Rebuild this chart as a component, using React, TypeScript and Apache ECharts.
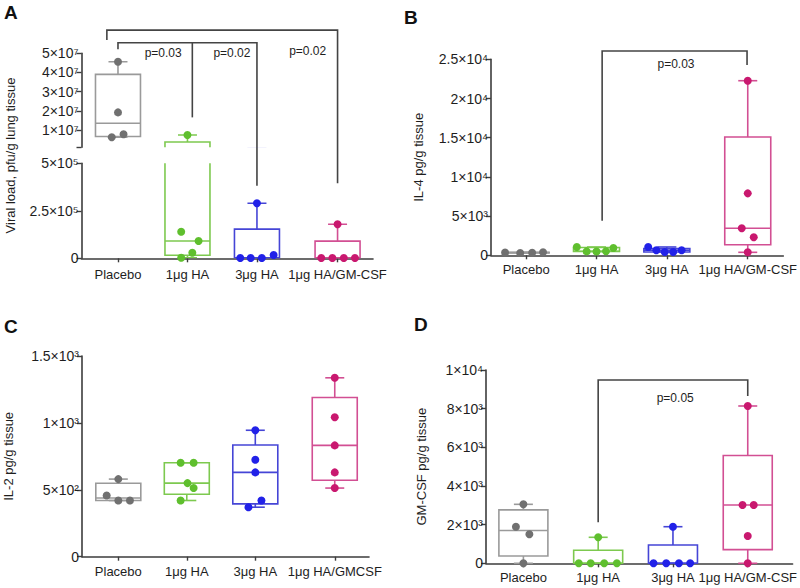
import React, { useEffect, useRef } from 'react';
import * as echarts from 'echarts';

const categories = ['Placebo', '1μg HA', '3μg HA', '1μg HA/GM-CSF'];
const categoriesC = ['Placebo', '1μg HA', '3μg HA', '1μg HA/GMCSF'];

// Panel A – viral load, pfu/g lung tissue
const viralPlacebo = [45600000, 19200000, 6200000, 7800000];
const viral1HA = [7400000, 140000, 91000, 29000, 3000];
const viral3HA = [290000, 2000, 2000, 2000, 17000];
const viralGM = [179000, 2000, 2000, 2000, 2000];
// Panel B – IL-4 pg/g tissue
const il4Placebo = [350, 300, 320, 380];
const il41HA = [1060, 500, 480, 520, 930];
const il43HA = [1060, 640, 430, 430, 640];
const il4GM = [22270, 7900, 3450, 2300, 380];
// Panel C – IL-2 pg/g tissue
const il2Placebo = [580, 457, 420, 420];
const il21HA = [702, 702, 550, 513, 420];
const il23HA = [945, 725, 630, 420, 370];
const il2GM = [1337, 1042, 832, 630, 513];
// Panel D – GM-CSF pg/g tissue
const gmPlacebo = [3051, 1893, 1500, 0];
const gm1HA = [1345, 0, 0, 0, 0];
const gm3HA = [1893, 0, 0, 0, 0];
const gmGM = [8138, 3017, 3017, 1412, 0];

// horizontal scatter of the dots inside each group (category units)
const jitA = [[0, 0, -0.09, 0.08], [0, -0.09, 0.16, 0.07, -0.09], [0, -0.24, -0.09, 0.07, 0.24], [0, -0.235, -0.075, 0.09, 0.25]];
const jitB = [[-0.3, -0.085, 0.085, 0.24], [-0.28, -0.14, 0, 0.135, 0.24], [-0.265, -0.15, -0.03, 0.09, 0.21], [0, 0, -0.085, 0.085, 0]];
const jitC = [[0, -0.17, 0, 0.17], [-0.09, 0.1, 0.01, 0.1, -0.09], [0, 0, 0, 0.09, -0.1], [0, 0, 0, 0, 0]];
const jitD = [[0, -0.1, 0.08, 0], [0, -0.26, -0.1, 0.08, 0.25], [0, -0.26, -0.09, 0.08, 0.23], [0, -0.07, 0.08, 0, 0]];

// significance brackets
const sigA = [
  { from: -0.16, to: 3.16, top: 62100000, fromEnd: 56900000, toEnd: 395000, mid: null as null | number, midEnd: 0 },
  { from: 0, to: 2, top: 55500000, fromEnd: 52100000, toEnd: 382000, mid: 1.07, midEnd: 16600000 },
];
const pLabelsA = [
  { text: 'p=0.03', x: 0.65, y: 50200000 },
  { text: 'p=0.02', x: 1.64, y: 50200000 },
  { text: 'p=0.02', x: 2.73, y: 51200000 },
];
const sigB = { from: 1.08, to: 3.14, top: 26058, fromEnd: 4413, toEnd: 24273, text: 'p=0.03', tx: 2.13, ty: 24337 };
const sigD = { from: 1.0, to: 3.0, top: 9483, fromEnd: 2121, toEnd: 8655, text: 'p=0.05', tx: 2.03, ty: 8552 };

const pointColors = ['#707070', '#5fbf2e', '#2121e8', '#c9186f'];
const boxColors = ['#9a9a9a', '#7dc94f', '#4545d6', '#d24f93'];
const FONT = '"Liberation Sans", Arial, Helvetica, sans-serif';
const AXIS = '#3d3d3d';
const TXT = '#1e1e1e';

const SUP: Record<string, string> = { '0': '⁰', '1': '¹', '2': '²', '3': '³', '4': '⁴', '5': '⁵', '6': '⁶', '7': '⁷', '8': '⁸', '9': '⁹' };
function sci(v: number): string {
  if (v === 0) return '0';
  const e = Math.floor(Math.log10(v) + 1e-9);
  const m = parseFloat((v / Math.pow(10, e)).toPrecision(3));
  return `${m}×10${String(e).split('').map((c) => SUP[c]).join('')}`;
}
function quant(s: number[], p: number): number {
  const n = s.length;
  const h = (n + 1) * p;
  if (h <= 1) return s[0];
  if (h >= n) return s[n - 1];
  const lo = Math.floor(h);
  return s[lo - 1] + (h - lo) * (s[lo] - s[lo - 1]);
}
function boxStats(v: number[]): number[] {
  const s = [...v].sort((a, b) => a - b);
  return [s[0], quant(s, 0.25), quant(s, 0.5), quant(s, 0.75), s[s.length - 1]];
}

interface Panel {
  grid: { left: number; right: number; top: number; bottom: number };
  xMin: number; xMax: number; pos: number[]; cats: string[]; showX: boolean;
  y: any; groups: number[][]; jit: number[][]; keep: (v: number) => boolean; boxHalf: number; clip: boolean;
  labelMargin: number;
}

const always = () => true;
const panels: Panel[] = [
  {
    grid: { left: 81.5, right: 427, top: 53.3, bottom: 440.7 }, xMin: -0.525, xMax: 3.67, pos: [0, 1, 2, 3.16], cats: categories, showX: false,
    y: { min: 1000000, max: 50000000, labels: [10000000, 20000000, 30000000, 40000000, 50000000], ticks: [1000000, 10000000, 20000000, 30000000, 40000000, 50000000] },
    groups: [viralPlacebo, viral1HA, viral3HA, viralGM], jit: jitA, keep: (v) => v >= 750000, boxHalf: 22.5, clip: true, labelMargin: 10,
  },
  {
    grid: { left: 81.5, right: 427, top: 163.3, bottom: 329.7 }, xMin: -0.525, xMax: 3.67, pos: [0, 1, 2, 3.16], cats: categories, showX: true,
    y: { min: 0, max: 500000, interval: 250000 },
    groups: [viralPlacebo, viral1HA, viral3HA, viralGM], jit: jitA, keep: (v) => v < 750000, boxHalf: 22.5, clip: true, labelMargin: 10,
  },
  {
    grid: { left: 491, right: 16, top: 59.3, bottom: 332.7 }, xMin: -0.5, xMax: 3.656, pos: [0, 1, 2, 3.15], cats: categories, showX: true,
    y: { min: 0, max: 25000, interval: 5000, name: 'IL-4 pg/g tissue', gap: 66 },
    groups: [il4Placebo, il41HA, il43HA, il4GM], jit: jitB, keep: always, boxHalf: 23, clip: false, labelMargin: 8,
  },
  {
    grid: { left: 82, right: 431, top: 356, bottom: 31.3 }, xMin: -0.53, xMax: 3.66, pos: [0, 1, 2, 3.16], cats: categoriesC, showX: true,
    y: { min: 0, max: 1500, interval: 500, name: 'IL-2 pg/g tissue', gap: 67 },
    groups: [il2Placebo, il21HA, il23HA, il2GM], jit: jitC, keep: always, boxHalf: 22.5, clip: false, labelMargin: 8,
  },
  {
    grid: { left: 486, right: 3, top: 370, bottom: 24.7 }, xMin: -0.5, xMax: 3.6, pos: [0, 1, 2, 3], cats: categories, showX: true,
    y: { min: 0, max: 10000, interval: 2000, name: 'GM-CSF pg/g tissue', gap: 58 },
    groups: [gmPlacebo, gm1HA, gm3HA, gmGM], jit: jitD, keep: always, boxHalf: 24.5, clip: false, labelMargin: 8,
  },
];

function buildOption(): any {
  const grid: any[] = [];
  const xAxis: any[] = [];
  const yAxis: any[] = [];
  const series: any[] = [];
  panels.forEach((p, k) => {
    grid.push({ ...p.grid, containLabel: false });
    xAxis.push({
      type: 'value', gridIndex: k, min: p.xMin, max: p.xMax, show: p.showX,
      axisLine: { show: true, onZero: false, lineStyle: { color: AXIS, width: 1.6 } },
      axisTick: { show: true, customValues: p.pos, length: 4, lineStyle: { color: AXIS, width: 1.4 } },
      axisLabel: {
        customValues: p.pos, margin: p.labelMargin, color: TXT, fontSize: 13, fontFamily: FONT,
        formatter: (v: number) => { const i = p.pos.indexOf(v); return i >= 0 ? p.cats[i] : ''; },
      },
      splitLine: { show: false },
    });
    const ya: any = {
      type: 'value', gridIndex: k, min: p.y.min, max: p.y.max,
      axisLine: { show: true, onZero: false, lineStyle: { color: AXIS, width: 1.6 } },
      axisTick: { show: true, length: 5, lineStyle: { color: AXIS, width: 1.4 } },
      axisLabel: { margin: 3, color: TXT, fontSize: 14, fontFamily: FONT, formatter: (v: number) => sci(v) },
      splitLine: { show: false },
    };
    if (p.y.interval) ya.interval = p.y.interval;
    if (p.y.labels) { ya.axisLabel.customValues = p.y.labels; ya.axisTick.customValues = p.y.ticks; }
    if (p.y.name) {
      ya.name = p.y.name; ya.nameLocation = 'middle'; ya.nameGap = p.y.gap;
      ya.nameTextStyle = { color: TXT, fontSize: 13, fontFamily: FONT };
    }
    yAxis.push(ya);

    const boxData = p.groups.map((g, gi) => [p.pos[gi], ...boxStats(g), gi]);
    series.push({
      type: 'custom', xAxisIndex: k, yAxisIndex: k, clip: p.clip, silent: true, z: 2,
      encode: { x: 0, y: 3 },
      data: boxData,
      renderItem: (params: any, api: any) => {
        const x = api.value(0);
        const c = boxColors[api.value(6)];
        const cx = api.coord([x, api.value(3)])[0];
        const yMin = api.coord([x, api.value(1)])[1];
        const yQ1 = api.coord([x, api.value(2)])[1];
        const yMed = api.coord([x, api.value(3)])[1];
        const yQ3 = api.coord([x, api.value(4)])[1];
        const yMax = api.coord([x, api.value(5)])[1];
        const hw = p.boxHalf;
        const cap = 9.5;
        const st = { stroke: c, lineWidth: 1.6, fill: 'none' };
        const ln = (x1: number, y1: number, x2: number, y2: number) => ({ type: 'line', shape: { x1, y1, x2, y2 }, style: { stroke: c, lineWidth: 1.6 } });
        return {
          type: 'group',
          children: [
            { type: 'rect', shape: { x: cx - hw, y: yQ3, width: 2 * hw, height: yQ1 - yQ3 }, style: st },
            ln(cx - hw, yMed, cx + hw, yMed),
            ln(cx, yQ3, cx, yMax),
            ln(cx - cap, yMax, cx + cap, yMax),
            ln(cx, yQ1, cx, yMin),
            ln(cx - cap, yMin, cx + cap, yMin),
          ],
        };
      },
    });
    p.groups.forEach((g, gi) => {
      const data = g.map((v, i) => [p.pos[gi] + p.jit[gi][i], v]).filter((d) => p.keep(d[1]));
      series.push({
        type: 'scatter', xAxisIndex: k, yAxisIndex: k, symbolSize: 8, silent: true, z: 3, clip: false,
        itemStyle: { color: pointColors[gi], opacity: 1 },
        data,
      });
    });
  });
  return {
    animation: false,
    textStyle: { fontFamily: FONT },
    grid, xAxis, yAxis, series,
  };
}

export default function App() {
  const ref = useRef<HTMLDivElement>(null);
  useEffect(() => {
    if (!ref.current) return;
    const chart = echarts.init(ref.current, null, { renderer: 'svg' });
    chart.setOption(buildOption());

    const px = (g: number, x: number, y: number): number[] =>
      chart.convertToPixel({ xAxisIndex: g, yAxisIndex: g } as any, [x, y]) as any;
    const lineStyle = { stroke: '#444', lineWidth: 1.6, fill: 'none' };
    const poly = (pts: number[][]) => ({ type: 'polyline', silent: true, shape: { points: pts }, style: lineStyle });
    const label = (text: string, pt: number[]) => ({
      type: 'text', silent: true, x: pt[0], y: pt[1],
      style: { text, fill: TXT, fontSize: 12, fontFamily: FONT, align: 'center', verticalAlign: 'middle', textAlign: 'center', textVerticalAlign: 'middle' },
    });
    const letter = (text: string, x: number, y: number) => ({
      type: 'text', silent: true, x, y,
      style: { text, fill: '#111', fontSize: 19, fontWeight: 'bold', fontFamily: FONT, align: 'left', verticalAlign: 'top' },
    });

    const graphics: any[] = [
      letter('A', 4, 3), letter('B', 404, 8), letter('C', 4, 317), letter('D', 414, 315),
      {
        type: 'text', silent: true, x: 10, y: 155.5, rotation: Math.PI / 2,
        style: { text: 'Viral load, pfu/g lung tissue', fill: TXT, fontSize: 13, fontFamily: FONT, align: 'center', verticalAlign: 'middle', textAlign: 'center', textVerticalAlign: 'middle' },
      },
    ];
    sigA.forEach((b) => {
      graphics.push(poly([px(0, b.from, b.fromEnd), px(0, b.from, b.top), px(0, b.to, b.top), px(1, b.to, b.toEnd)]));
      if (b.mid !== null) graphics.push(poly([px(0, b.mid, b.top), px(0, b.mid, b.midEnd)]));
    });
    pLabelsA.forEach((l) => graphics.push(label(l.text, px(0, l.x, l.y))));
    [[2, sigB], [4, sigD]].forEach(([g, b]: any) => {
      graphics.push(poly([px(g, b.from, b.fromEnd), px(g, b.from, b.top), px(g, b.to, b.top), px(g, b.to, b.toEnd)]));
      graphics.push(label(b.text, px(g, b.tx, b.ty)));
    });
    chart.setOption({ graphic: graphics });
    return () => chart.dispose();
  }, []);
  return <div ref={ref} style={{ position: 'absolute', left: 0, top: 0, width: 800, height: 588, background: '#fff' }} />;
}
